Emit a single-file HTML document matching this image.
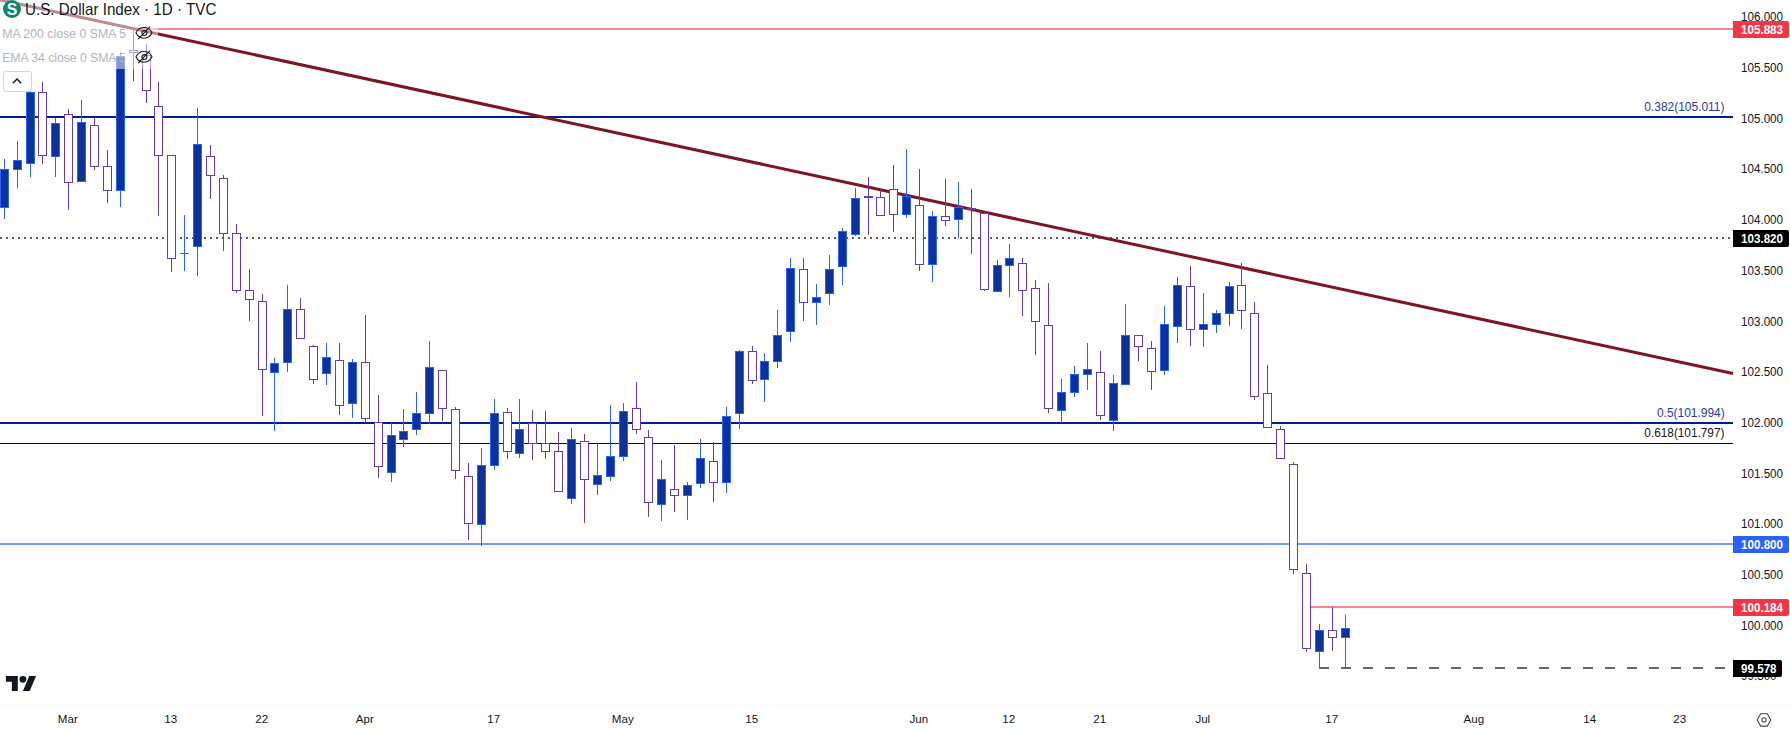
<!DOCTYPE html>
<html lang="en">
<head>
<meta charset="utf-8">
<title>U.S. Dollar Index · 1D · TVC</title>
<style>
html,body{margin:0;padding:0;background:#fff;}
body{width:1790px;height:731px;position:relative;overflow:hidden;font-family:"Liberation Sans",Arial,sans-serif;color:#131722;}
#chart{position:absolute;left:0;top:0;width:1790px;height:731px;}
.pl{position:absolute;left:1740.7px;width:50px;height:16px;line-height:16px;font-size:12.5px;color:#131722;white-space:nowrap;transform:scaleX(0.93);transform-origin:0 50%;}
.tl{position:absolute;top:711px;width:60px;text-align:center;height:16px;line-height:16px;font-size:11.6px;color:#131722;white-space:nowrap;}
.tag{position:absolute;left:1733px;width:56px;height:17px;line-height:17px;border-radius:0 2px 2px 0;color:#fff;font-weight:bold;font-size:12.5px;box-sizing:border-box;padding-left:0;white-space:nowrap;letter-spacing:0px;}
.tag span{display:inline-block;margin-left:7.6px;transform:translateY(0.6px) scaleX(0.93);transform-origin:0 50%;}
.fib{position:absolute;right:65.09999999999991px;height:16px;line-height:16px;font-size:12.3px;white-space:nowrap;transform:scaleX(0.972);transform-origin:100% 50%;}
#legend-bg1{position:absolute;left:0;top:0;width:219px;height:22px;background:rgba(255,255,255,0.5);}
#legend-bg2{position:absolute;left:0;top:22px;width:158px;height:47px;background:rgba(255,255,255,0.5);}
#title{position:absolute;left:24.8px;top:0;height:20px;line-height:18.2px;font-size:16.4px;color:#131722;white-space:nowrap;transform:scaleX(0.927);transform-origin:0 50%;}
.ind{position:absolute;left:2.2px;height:18px;line-height:18px;font-size:12.3px;color:#b2b5be;white-space:nowrap;}
#btn{position:absolute;left:3px;top:71px;width:28.5px;height:20.5px;box-sizing:border-box;border:1px solid #d1d4dc;border-radius:3px;background:#fff;}
</style>
</head>
<body>
<svg id="chart" width="1790" height="731" viewBox="0 0 1790 731">
<g shape-rendering="crispEdges">
<!-- horizontal levels -->
<rect x="133" y="28" width="1600" height="2" fill="#f8858e"/>
<rect x="0" y="116" width="1733" height="2" fill="#011e8f"/>
<rect x="0" y="422" width="1733" height="2" fill="#011e8f"/>
<rect x="0" y="443" width="1733" height="1" fill="#0b0b0b"/>
<rect x="0" y="543" width="1733" height="2" fill="#769bfc"/>
<rect x="1306" y="606" width="427" height="2" fill="#f8858e"/>
<line x1="0" y1="238" x2="1733" y2="238" stroke="#5c5c5c" stroke-width="2" stroke-dasharray="2 4"/>
<line x1="1319" y1="668" x2="1733" y2="668" stroke="#676767" stroke-width="2" stroke-dasharray="10 12"/>
</g>
<!-- trend line -->
<line x1="0" y1="-0.1" x2="1733" y2="373.5" stroke="#7d1620" stroke-width="3" stroke-linecap="butt"/>
<g shape-rendering="crispEdges">
<rect x="4" y="159" width="1" height="60" fill="#2962ff"/>
<rect x="0" y="169" width="9" height="39" fill="#2962ff"/>
<rect x="1" y="170" width="7" height="37" fill="#0c3299"/>
<rect x="17" y="141" width="1" height="47" fill="#2962ff"/>
<rect x="13" y="160" width="9" height="10" fill="#2962ff"/>
<rect x="14" y="161" width="7" height="8" fill="#0c3299"/>
<rect x="30" y="86" width="1" height="91" fill="#2962ff"/>
<rect x="26" y="92" width="9" height="72" fill="#2962ff"/>
<rect x="27" y="93" width="7" height="70" fill="#0c3299"/>
<rect x="42" y="82" width="1" height="82" fill="#673ab7"/>
<rect x="38" y="92" width="9" height="64" fill="#673ab7"/>
<rect x="39" y="93" width="7" height="62" fill="#ffffff"/>
<rect x="55" y="118" width="1" height="59" fill="#2962ff"/>
<rect x="51" y="123" width="9" height="34" fill="#2962ff"/>
<rect x="52" y="124" width="7" height="32" fill="#0c3299"/>
<rect x="68" y="109" width="1" height="101" fill="#673ab7"/>
<rect x="64" y="114" width="9" height="69" fill="#673ab7"/>
<rect x="65" y="115" width="7" height="67" fill="#ffffff"/>
<rect x="81" y="100" width="1" height="82" fill="#2962ff"/>
<rect x="77" y="122" width="9" height="60" fill="#2962ff"/>
<rect x="78" y="123" width="7" height="58" fill="#0c3299"/>
<rect x="94" y="118" width="1" height="52" fill="#673ab7"/>
<rect x="90" y="125" width="9" height="42" fill="#673ab7"/>
<rect x="91" y="126" width="7" height="40" fill="#ffffff"/>
<rect x="107" y="150" width="1" height="53" fill="#673ab7"/>
<rect x="103" y="166" width="9" height="25" fill="#673ab7"/>
<rect x="104" y="167" width="7" height="23" fill="#ffffff"/>
<rect x="120" y="52" width="1" height="155" fill="#2962ff"/>
<rect x="116" y="56" width="9" height="135" fill="#2962ff"/>
<rect x="117" y="57" width="7" height="133" fill="#0c3299"/>
<rect x="133" y="29" width="1" height="52" fill="#673ab7"/>
<rect x="129" y="50" width="9" height="3" fill="#673ab7"/>
<rect x="130" y="51" width="7" height="1" fill="#ffffff"/>
<rect x="146" y="44" width="1" height="59" fill="#673ab7"/>
<rect x="142" y="55" width="9" height="36" fill="#673ab7"/>
<rect x="143" y="56" width="7" height="34" fill="#ffffff"/>
<rect x="158" y="82" width="1" height="134" fill="#673ab7"/>
<rect x="154" y="106" width="9" height="50" fill="#673ab7"/>
<rect x="155" y="107" width="7" height="48" fill="#ffffff"/>
<rect x="171" y="155" width="1" height="117" fill="#673ab7"/>
<rect x="167" y="155" width="9" height="104" fill="#673ab7"/>
<rect x="168" y="156" width="7" height="102" fill="#ffffff"/>
<rect x="184" y="215" width="1" height="56" fill="#2962ff"/>
<rect x="180" y="253" width="9" height="1" fill="#2962ff"/>
<rect x="197" y="108" width="1" height="168" fill="#2962ff"/>
<rect x="193" y="144" width="9" height="103" fill="#2962ff"/>
<rect x="194" y="145" width="7" height="101" fill="#0c3299"/>
<rect x="210" y="145" width="1" height="54" fill="#673ab7"/>
<rect x="206" y="156" width="9" height="20" fill="#673ab7"/>
<rect x="207" y="157" width="7" height="18" fill="#ffffff"/>
<rect x="223" y="175" width="1" height="76" fill="#673ab7"/>
<rect x="219" y="178" width="9" height="56" fill="#673ab7"/>
<rect x="220" y="179" width="7" height="54" fill="#ffffff"/>
<rect x="236" y="224" width="1" height="69" fill="#673ab7"/>
<rect x="232" y="233" width="9" height="58" fill="#673ab7"/>
<rect x="233" y="234" width="7" height="56" fill="#ffffff"/>
<rect x="249" y="269" width="1" height="52" fill="#673ab7"/>
<rect x="245" y="290" width="9" height="10" fill="#673ab7"/>
<rect x="246" y="291" width="7" height="8" fill="#ffffff"/>
<rect x="262" y="294" width="1" height="122" fill="#673ab7"/>
<rect x="258" y="301" width="9" height="69" fill="#673ab7"/>
<rect x="259" y="302" width="7" height="67" fill="#ffffff"/>
<rect x="274" y="358" width="1" height="73" fill="#2962ff"/>
<rect x="270" y="363" width="9" height="10" fill="#2962ff"/>
<rect x="271" y="364" width="7" height="8" fill="#0c3299"/>
<rect x="287" y="285" width="1" height="87" fill="#2962ff"/>
<rect x="283" y="309" width="9" height="54" fill="#2962ff"/>
<rect x="284" y="310" width="7" height="52" fill="#0c3299"/>
<rect x="300" y="298" width="1" height="41" fill="#673ab7"/>
<rect x="296" y="309" width="9" height="30" fill="#673ab7"/>
<rect x="297" y="310" width="7" height="28" fill="#ffffff"/>
<rect x="313" y="345" width="1" height="39" fill="#673ab7"/>
<rect x="309" y="346" width="9" height="34" fill="#673ab7"/>
<rect x="310" y="347" width="7" height="32" fill="#ffffff"/>
<rect x="326" y="343" width="1" height="42" fill="#2962ff"/>
<rect x="322" y="357" width="9" height="17" fill="#2962ff"/>
<rect x="323" y="358" width="7" height="15" fill="#0c3299"/>
<rect x="339" y="343" width="1" height="72" fill="#673ab7"/>
<rect x="335" y="360" width="9" height="46" fill="#673ab7"/>
<rect x="336" y="361" width="7" height="44" fill="#ffffff"/>
<rect x="352" y="359" width="1" height="59" fill="#2962ff"/>
<rect x="348" y="362" width="9" height="42" fill="#2962ff"/>
<rect x="349" y="363" width="7" height="40" fill="#0c3299"/>
<rect x="365" y="315" width="1" height="108" fill="#673ab7"/>
<rect x="361" y="362" width="9" height="57" fill="#673ab7"/>
<rect x="362" y="363" width="7" height="55" fill="#ffffff"/>
<rect x="378" y="395" width="1" height="83" fill="#673ab7"/>
<rect x="374" y="422" width="9" height="45" fill="#673ab7"/>
<rect x="375" y="423" width="7" height="43" fill="#ffffff"/>
<rect x="391" y="423" width="1" height="59" fill="#2962ff"/>
<rect x="387" y="435" width="9" height="38" fill="#2962ff"/>
<rect x="388" y="436" width="7" height="36" fill="#0c3299"/>
<rect x="403" y="409" width="1" height="38" fill="#2962ff"/>
<rect x="399" y="431" width="9" height="9" fill="#2962ff"/>
<rect x="400" y="432" width="7" height="7" fill="#0c3299"/>
<rect x="416" y="392" width="1" height="43" fill="#2962ff"/>
<rect x="412" y="413" width="9" height="17" fill="#2962ff"/>
<rect x="413" y="414" width="7" height="15" fill="#0c3299"/>
<rect x="429" y="341" width="1" height="83" fill="#2962ff"/>
<rect x="425" y="367" width="9" height="47" fill="#2962ff"/>
<rect x="426" y="368" width="7" height="45" fill="#0c3299"/>
<rect x="442" y="370" width="1" height="51" fill="#673ab7"/>
<rect x="438" y="370" width="9" height="39" fill="#673ab7"/>
<rect x="439" y="371" width="7" height="37" fill="#ffffff"/>
<rect x="455" y="407" width="1" height="72" fill="#673ab7"/>
<rect x="451" y="409" width="9" height="62" fill="#673ab7"/>
<rect x="452" y="410" width="7" height="60" fill="#ffffff"/>
<rect x="468" y="463" width="1" height="77" fill="#673ab7"/>
<rect x="464" y="476" width="9" height="48" fill="#673ab7"/>
<rect x="465" y="477" width="7" height="46" fill="#ffffff"/>
<rect x="481" y="448" width="1" height="98" fill="#2962ff"/>
<rect x="477" y="465" width="9" height="60" fill="#2962ff"/>
<rect x="478" y="466" width="7" height="58" fill="#0c3299"/>
<rect x="494" y="399" width="1" height="71" fill="#2962ff"/>
<rect x="490" y="413" width="9" height="53" fill="#2962ff"/>
<rect x="491" y="414" width="7" height="51" fill="#0c3299"/>
<rect x="507" y="408" width="1" height="51" fill="#673ab7"/>
<rect x="503" y="412" width="9" height="40" fill="#673ab7"/>
<rect x="504" y="413" width="7" height="38" fill="#ffffff"/>
<rect x="519" y="399" width="1" height="59" fill="#2962ff"/>
<rect x="515" y="429" width="9" height="25" fill="#2962ff"/>
<rect x="516" y="430" width="7" height="23" fill="#0c3299"/>
<rect x="532" y="410" width="1" height="50" fill="#673ab7"/>
<rect x="528" y="423" width="9" height="21" fill="#673ab7"/>
<rect x="529" y="424" width="7" height="19" fill="#ffffff"/>
<rect x="545" y="411" width="1" height="48" fill="#673ab7"/>
<rect x="541" y="443" width="9" height="9" fill="#673ab7"/>
<rect x="542" y="444" width="7" height="7" fill="#ffffff"/>
<rect x="558" y="432" width="1" height="60" fill="#673ab7"/>
<rect x="554" y="451" width="9" height="41" fill="#673ab7"/>
<rect x="555" y="452" width="7" height="39" fill="#ffffff"/>
<rect x="571" y="428" width="1" height="76" fill="#2962ff"/>
<rect x="567" y="439" width="9" height="60" fill="#2962ff"/>
<rect x="568" y="440" width="7" height="58" fill="#0c3299"/>
<rect x="584" y="434" width="1" height="89" fill="#673ab7"/>
<rect x="580" y="441" width="9" height="39" fill="#673ab7"/>
<rect x="581" y="442" width="7" height="37" fill="#ffffff"/>
<rect x="597" y="443" width="1" height="52" fill="#2962ff"/>
<rect x="593" y="475" width="9" height="10" fill="#2962ff"/>
<rect x="594" y="476" width="7" height="8" fill="#0c3299"/>
<rect x="610" y="405" width="1" height="76" fill="#2962ff"/>
<rect x="606" y="456" width="9" height="21" fill="#2962ff"/>
<rect x="607" y="457" width="7" height="19" fill="#0c3299"/>
<rect x="623" y="403" width="1" height="58" fill="#2962ff"/>
<rect x="619" y="411" width="9" height="46" fill="#2962ff"/>
<rect x="620" y="412" width="7" height="44" fill="#0c3299"/>
<rect x="636" y="382" width="1" height="52" fill="#673ab7"/>
<rect x="632" y="408" width="9" height="22" fill="#673ab7"/>
<rect x="633" y="409" width="7" height="20" fill="#ffffff"/>
<rect x="648" y="430" width="1" height="87" fill="#673ab7"/>
<rect x="644" y="437" width="9" height="66" fill="#673ab7"/>
<rect x="645" y="438" width="7" height="64" fill="#ffffff"/>
<rect x="661" y="460" width="1" height="61" fill="#2962ff"/>
<rect x="657" y="479" width="9" height="26" fill="#2962ff"/>
<rect x="658" y="480" width="7" height="24" fill="#0c3299"/>
<rect x="674" y="445" width="1" height="67" fill="#673ab7"/>
<rect x="670" y="489" width="9" height="7" fill="#673ab7"/>
<rect x="671" y="490" width="7" height="5" fill="#ffffff"/>
<rect x="687" y="482" width="1" height="38" fill="#2962ff"/>
<rect x="683" y="485" width="9" height="11" fill="#2962ff"/>
<rect x="684" y="486" width="7" height="9" fill="#0c3299"/>
<rect x="700" y="439" width="1" height="49" fill="#2962ff"/>
<rect x="696" y="458" width="9" height="26" fill="#2962ff"/>
<rect x="697" y="459" width="7" height="24" fill="#0c3299"/>
<rect x="713" y="442" width="1" height="60" fill="#673ab7"/>
<rect x="709" y="461" width="9" height="22" fill="#673ab7"/>
<rect x="710" y="462" width="7" height="20" fill="#ffffff"/>
<rect x="726" y="407" width="1" height="86" fill="#2962ff"/>
<rect x="722" y="416" width="9" height="67" fill="#2962ff"/>
<rect x="723" y="417" width="7" height="65" fill="#0c3299"/>
<rect x="739" y="350" width="1" height="79" fill="#2962ff"/>
<rect x="735" y="351" width="9" height="63" fill="#2962ff"/>
<rect x="736" y="352" width="7" height="61" fill="#0c3299"/>
<rect x="752" y="346" width="1" height="38" fill="#673ab7"/>
<rect x="748" y="351" width="9" height="30" fill="#673ab7"/>
<rect x="749" y="352" width="7" height="28" fill="#ffffff"/>
<rect x="764" y="353" width="1" height="49" fill="#2962ff"/>
<rect x="760" y="361" width="9" height="19" fill="#2962ff"/>
<rect x="761" y="362" width="7" height="17" fill="#0c3299"/>
<rect x="777" y="310" width="1" height="58" fill="#2962ff"/>
<rect x="773" y="335" width="9" height="27" fill="#2962ff"/>
<rect x="774" y="336" width="7" height="25" fill="#0c3299"/>
<rect x="790" y="258" width="1" height="84" fill="#2962ff"/>
<rect x="786" y="268" width="9" height="64" fill="#2962ff"/>
<rect x="787" y="269" width="7" height="62" fill="#0c3299"/>
<rect x="803" y="258" width="1" height="63" fill="#673ab7"/>
<rect x="799" y="269" width="9" height="34" fill="#673ab7"/>
<rect x="800" y="270" width="7" height="32" fill="#ffffff"/>
<rect x="816" y="284" width="1" height="41" fill="#2962ff"/>
<rect x="812" y="297" width="9" height="6" fill="#2962ff"/>
<rect x="813" y="298" width="7" height="4" fill="#0c3299"/>
<rect x="829" y="255" width="1" height="50" fill="#2962ff"/>
<rect x="825" y="269" width="9" height="25" fill="#2962ff"/>
<rect x="826" y="270" width="7" height="23" fill="#0c3299"/>
<rect x="842" y="228" width="1" height="57" fill="#2962ff"/>
<rect x="838" y="231" width="9" height="36" fill="#2962ff"/>
<rect x="839" y="232" width="7" height="34" fill="#0c3299"/>
<rect x="855" y="188" width="1" height="48" fill="#2962ff"/>
<rect x="851" y="198" width="9" height="37" fill="#2962ff"/>
<rect x="852" y="199" width="7" height="35" fill="#0c3299"/>
<rect x="868" y="177" width="1" height="58" fill="#673ab7"/>
<rect x="864" y="196" width="9" height="2" fill="#673ab7"/>
<rect x="880" y="189" width="1" height="27" fill="#673ab7"/>
<rect x="876" y="197" width="9" height="19" fill="#673ab7"/>
<rect x="877" y="198" width="7" height="17" fill="#ffffff"/>
<rect x="893" y="165" width="1" height="67" fill="#673ab7"/>
<rect x="889" y="189" width="9" height="26" fill="#673ab7"/>
<rect x="890" y="190" width="7" height="24" fill="#ffffff"/>
<rect x="906" y="149" width="1" height="69" fill="#2962ff"/>
<rect x="902" y="196" width="9" height="19" fill="#2962ff"/>
<rect x="903" y="197" width="7" height="17" fill="#0c3299"/>
<rect x="919" y="169" width="1" height="102" fill="#673ab7"/>
<rect x="915" y="205" width="9" height="60" fill="#673ab7"/>
<rect x="916" y="206" width="7" height="58" fill="#ffffff"/>
<rect x="932" y="211" width="1" height="71" fill="#2962ff"/>
<rect x="928" y="216" width="9" height="49" fill="#2962ff"/>
<rect x="929" y="217" width="7" height="47" fill="#0c3299"/>
<rect x="945" y="179" width="1" height="47" fill="#673ab7"/>
<rect x="941" y="216" width="9" height="5" fill="#673ab7"/>
<rect x="942" y="217" width="7" height="3" fill="#ffffff"/>
<rect x="958" y="182" width="1" height="56" fill="#2962ff"/>
<rect x="954" y="207" width="9" height="13" fill="#2962ff"/>
<rect x="955" y="208" width="7" height="11" fill="#0c3299"/>
<rect x="971" y="189" width="1" height="65" fill="#673ab7"/>
<rect x="967" y="208" width="9" height="2" fill="#673ab7"/>
<rect x="984" y="212" width="1" height="79" fill="#673ab7"/>
<rect x="980" y="213" width="9" height="77" fill="#673ab7"/>
<rect x="981" y="214" width="7" height="75" fill="#ffffff"/>
<rect x="997" y="260" width="1" height="32" fill="#2962ff"/>
<rect x="993" y="265" width="9" height="27" fill="#2962ff"/>
<rect x="994" y="266" width="7" height="25" fill="#0c3299"/>
<rect x="1009" y="244" width="1" height="53" fill="#2962ff"/>
<rect x="1005" y="258" width="9" height="8" fill="#2962ff"/>
<rect x="1006" y="259" width="7" height="6" fill="#0c3299"/>
<rect x="1022" y="258" width="1" height="58" fill="#673ab7"/>
<rect x="1018" y="263" width="9" height="28" fill="#673ab7"/>
<rect x="1019" y="264" width="7" height="26" fill="#ffffff"/>
<rect x="1035" y="280" width="1" height="75" fill="#673ab7"/>
<rect x="1031" y="288" width="9" height="34" fill="#673ab7"/>
<rect x="1032" y="289" width="7" height="32" fill="#ffffff"/>
<rect x="1048" y="283" width="1" height="130" fill="#673ab7"/>
<rect x="1044" y="325" width="9" height="84" fill="#673ab7"/>
<rect x="1045" y="326" width="7" height="82" fill="#ffffff"/>
<rect x="1061" y="379" width="1" height="44" fill="#2962ff"/>
<rect x="1057" y="392" width="9" height="19" fill="#2962ff"/>
<rect x="1058" y="393" width="7" height="17" fill="#0c3299"/>
<rect x="1074" y="366" width="1" height="31" fill="#2962ff"/>
<rect x="1070" y="374" width="9" height="19" fill="#2962ff"/>
<rect x="1071" y="375" width="7" height="17" fill="#0c3299"/>
<rect x="1087" y="343" width="1" height="47" fill="#2962ff"/>
<rect x="1083" y="369" width="9" height="6" fill="#2962ff"/>
<rect x="1084" y="370" width="7" height="4" fill="#0c3299"/>
<rect x="1100" y="351" width="1" height="69" fill="#673ab7"/>
<rect x="1096" y="372" width="9" height="44" fill="#673ab7"/>
<rect x="1097" y="373" width="7" height="42" fill="#ffffff"/>
<rect x="1113" y="375" width="1" height="56" fill="#2962ff"/>
<rect x="1109" y="383" width="9" height="38" fill="#2962ff"/>
<rect x="1110" y="384" width="7" height="36" fill="#0c3299"/>
<rect x="1125" y="304" width="1" height="81" fill="#2962ff"/>
<rect x="1121" y="335" width="9" height="50" fill="#2962ff"/>
<rect x="1122" y="336" width="7" height="48" fill="#0c3299"/>
<rect x="1138" y="335" width="1" height="26" fill="#673ab7"/>
<rect x="1134" y="335" width="9" height="12" fill="#673ab7"/>
<rect x="1135" y="336" width="7" height="10" fill="#ffffff"/>
<rect x="1151" y="341" width="1" height="49" fill="#673ab7"/>
<rect x="1147" y="348" width="9" height="24" fill="#673ab7"/>
<rect x="1148" y="349" width="7" height="22" fill="#ffffff"/>
<rect x="1164" y="306" width="1" height="69" fill="#2962ff"/>
<rect x="1160" y="324" width="9" height="47" fill="#2962ff"/>
<rect x="1161" y="325" width="7" height="45" fill="#0c3299"/>
<rect x="1177" y="277" width="1" height="66" fill="#2962ff"/>
<rect x="1173" y="285" width="9" height="42" fill="#2962ff"/>
<rect x="1174" y="286" width="7" height="40" fill="#0c3299"/>
<rect x="1190" y="266" width="1" height="80" fill="#673ab7"/>
<rect x="1186" y="286" width="9" height="44" fill="#673ab7"/>
<rect x="1187" y="287" width="7" height="42" fill="#ffffff"/>
<rect x="1203" y="293" width="1" height="54" fill="#2962ff"/>
<rect x="1199" y="324" width="9" height="6" fill="#2962ff"/>
<rect x="1200" y="325" width="7" height="4" fill="#0c3299"/>
<rect x="1216" y="310" width="1" height="23" fill="#2962ff"/>
<rect x="1212" y="313" width="9" height="12" fill="#2962ff"/>
<rect x="1213" y="314" width="7" height="10" fill="#0c3299"/>
<rect x="1229" y="282" width="1" height="44" fill="#2962ff"/>
<rect x="1225" y="286" width="9" height="28" fill="#2962ff"/>
<rect x="1226" y="287" width="7" height="26" fill="#0c3299"/>
<rect x="1241" y="263" width="1" height="66" fill="#673ab7"/>
<rect x="1237" y="285" width="9" height="26" fill="#673ab7"/>
<rect x="1238" y="286" width="7" height="24" fill="#ffffff"/>
<rect x="1254" y="302" width="1" height="98" fill="#673ab7"/>
<rect x="1250" y="313" width="9" height="84" fill="#673ab7"/>
<rect x="1251" y="314" width="7" height="82" fill="#ffffff"/>
<rect x="1267" y="365" width="1" height="63" fill="#673ab7"/>
<rect x="1263" y="393" width="9" height="35" fill="#673ab7"/>
<rect x="1264" y="394" width="7" height="33" fill="#ffffff"/>
<rect x="1280" y="426" width="1" height="33" fill="#673ab7"/>
<rect x="1276" y="429" width="9" height="30" fill="#673ab7"/>
<rect x="1277" y="430" width="7" height="28" fill="#ffffff"/>
<rect x="1293" y="462" width="1" height="112" fill="#673ab7"/>
<rect x="1289" y="464" width="9" height="106" fill="#673ab7"/>
<rect x="1290" y="465" width="7" height="104" fill="#ffffff"/>
<rect x="1306" y="564" width="1" height="88" fill="#673ab7"/>
<rect x="1302" y="573" width="9" height="76" fill="#673ab7"/>
<rect x="1303" y="574" width="7" height="74" fill="#ffffff"/>
<rect x="1319" y="624" width="1" height="44" fill="#2962ff"/>
<rect x="1315" y="630" width="9" height="22" fill="#2962ff"/>
<rect x="1316" y="631" width="7" height="20" fill="#0c3299"/>
<rect x="1332" y="607" width="1" height="44" fill="#673ab7"/>
<rect x="1328" y="630" width="9" height="8" fill="#673ab7"/>
<rect x="1329" y="631" width="7" height="6" fill="#ffffff"/>
<rect x="1345" y="615" width="1" height="53" fill="#2962ff"/>
<rect x="1341" y="628" width="9" height="10" fill="#2962ff"/>
<rect x="1342" y="629" width="7" height="8" fill="#0c3299"/>
</g>
<rect x="1733" y="0" width="57" height="731" fill="#fff"/>
<rect x="1733" y="0" width="1" height="705" fill="#fcfcfd"/>
<rect x="0" y="705" width="1790" height="1" fill="#fafafb"/>
<!-- TV logo -->
<g transform="translate(5.9,672.7) scale(0.85,0.8333)" fill="#131722">
<path d="M14 22H7V11H0V4h14v18zM28 22h-8l7.5-18h8L28 22z"/><circle cx="20" cy="8" r="4"/>
</g>
<!-- settings hex -->
<g fill="none" stroke="#434651" stroke-width="1.1">
<path d="M1757.2 719.9 L1760.6 713.7 L1767.4 713.7 L1770.8 719.9 L1767.4 726.1 L1760.6 726.1 Z"/>
<circle cx="1764" cy="719.9" r="2.1"/>
</g>
</svg>

<div id="legend-bg1"></div>
<div id="legend-bg2"></div>

<svg style="position:absolute;left:3px;top:0" width="18" height="18" viewBox="0 0 18 18">
<circle cx="9" cy="9" r="9" fill="#0a8771"/>
<text x="9" y="14.5" text-anchor="middle" font-family="Liberation Sans, Arial, sans-serif" font-weight="bold" font-size="15.8" fill="#fff">S</text>
<rect x="8.5" y="4.8" width="1" height="2" fill="#0a8771" opacity="0.6"/><rect x="8.5" y="11.2" width="1" height="2" fill="#0a8771" opacity="0.6"/>
</svg>
<div id="title">U.S. Dollar Index · 1D · TVC</div>
<div class="ind" style="top:24.5px">MA 200 close 0 SMA 5</div>
<div class="ind" style="top:48.5px;letter-spacing:-0.07px">EMA 34 close 0 SMA 5</div>
<svg style="position:absolute;left:135px;top:25px" width="18" height="16" viewBox="0 0 18 16" fill="none" stroke="#131722" stroke-width="1.05">
<path d="M1 7.8 C4 0.6 14 0.6 17 7.8 C14 15 4 15 1 7.8 Z"/><circle cx="9.4" cy="8" r="2.5"/><path d="M3.2 14.1 L15 1.6"/>
</svg>
<svg style="position:absolute;left:135px;top:49.2px" width="18" height="16" viewBox="0 0 18 16" fill="none" stroke="#131722" stroke-width="1.05">
<path d="M1 7.8 C4 0.6 14 0.6 17 7.8 C14 15 4 15 1 7.8 Z"/><circle cx="9.4" cy="8" r="2.5"/><path d="M3.2 14.1 L15 1.6"/>
</svg>
<div id="btn"><svg style="position:absolute;left:8px;top:6px" width="10" height="6" viewBox="0 0 10 6" fill="none" stroke="#131722" stroke-width="1.4"><path d="M0.8 5.2 L5 1 L9.2 5.2"/></svg></div>

<div class="pl" style="top:9.3px">106.000</div><div class="pl" style="top:60.0px">105.500</div><div class="pl" style="top:110.7px">105.000</div><div class="pl" style="top:161.4px">104.500</div><div class="pl" style="top:212.1px">104.000</div><div class="pl" style="top:262.8px">103.500</div><div class="pl" style="top:313.5px">103.000</div><div class="pl" style="top:364.2px">102.500</div><div class="pl" style="top:414.9px">102.000</div><div class="pl" style="top:465.6px">101.500</div><div class="pl" style="top:516.2px">101.000</div><div class="pl" style="top:566.9px">100.500</div><div class="pl" style="top:617.6px">100.000</div><div class="pl" style="top:668.3px">99.500</div>
<div class="tag" style="top:21px;background:#f23645"><span>105.883</span></div>
<div class="tag" style="top:230px;background:#000"><span>103.820</span></div>
<div class="tag" style="top:536px;background:#2962ff"><span>100.800</span></div>
<div class="tag" style="top:599px;background:#f23645"><span>100.184</span></div>
<div class="tag" style="top:660px;background:#000;width:49px"><span>99.578</span></div>

<div class="fib" style="top:98.5px;color:#1f3ba8">0.382(105.011)</div>
<div class="fib" style="top:404.5px;color:#1f3ba8">0.5(101.994)</div>
<div class="fib" style="top:424.6px;color:#131722;transform:scaleX(0.96)">0.618(101.797)</div>

<div class="tl" style="left:37.8px">Mar</div><div class="tl" style="left:140.8px">13</div><div class="tl" style="left:231.8px">22</div><div class="tl" style="left:334.8px">Apr</div><div class="tl" style="left:463.8px">17</div><div class="tl" style="left:592.8px">May</div><div class="tl" style="left:721.8px">15</div><div class="tl" style="left:888.8px">Jun</div><div class="tl" style="left:978.8px">12</div><div class="tl" style="left:1069.8px">21</div><div class="tl" style="left:1172.8px">Jul</div><div class="tl" style="left:1301.8px">17</div><div class="tl" style="left:1443.8px">Aug</div><div class="tl" style="left:1559.8px">14</div><div class="tl" style="left:1649.8px">23</div>
</body>
</html>
